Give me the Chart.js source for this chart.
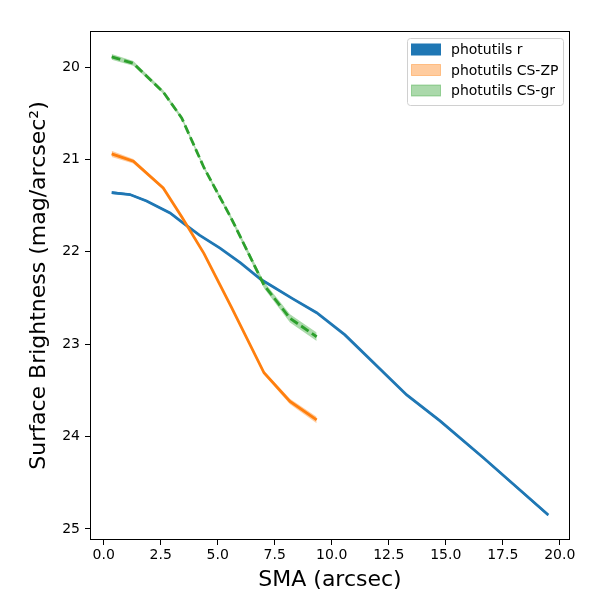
<!DOCTYPE html>
<html>
<head>
<meta charset="utf-8">
<script src="https://cdn.jsdelivr.net/npm/chart.js@4/dist/chart.umd.min.js"></script>
<style>
  html, body { margin: 0; padding: 0; background: #fff; }
  #wrap { width: 600px; height: 600px; }
</style>
</head>
<body>
<div id="wrap"><canvas id="sb"></canvas></div>
<script>
// photutils r profile
const smaR = [0.35, 1.15, 1.88, 2.91, 3.49, 4.2, 5.1, 6.0, 6.9, 7.3, 8.3, 9.34, 10.58, 13.29, 14.75, 16.65, 19.50];
const sbR = [21.36, 21.38, 21.45, 21.58, 21.69, 21.82, 21.96, 22.12, 22.30, 22.36, 22.51, 22.66, 22.90, 23.55, 23.83, 24.23, 24.85];
const errR = [0.015, 0.012, 0.01, 0.01, 0.01, 0.01, 0.01, 0.01, 0.01, 0.01, 0.01, 0.01, 0.01, 0.01, 0.012, 0.012, 0.015];

// CS profiles share the same SMA grid
const smaCS = [0.35, 1.30, 2.61, 3.42, 4.4, 5.6, 7.03, 8.17, 9.34];
const sbZP = [20.94, 21.02, 21.31, 21.62, 22.02, 22.60, 23.31, 23.62, 23.82];
const errZP = [0.035, 0.025, 0.015, 0.012, 0.012, 0.015, 0.02, 0.03, 0.035];
const sbGR = [19.89, 19.96, 20.27, 20.55, 21.09, 21.64, 22.36, 22.72, 22.92];
const errGR = [0.03, 0.025, 0.02, 0.02, 0.02, 0.025, 0.035, 0.045, 0.045];

const xTicks = [0, 2.5, 5, 7.5, 10, 12.5, 15, 17.5, 20];
const yTicks = [20, 21, 22, 23, 24, 25];

const labels = ['photutils r', 'photutils CS-ZP', 'photutils CS-gr'];
const lineColors = ['#1f77b4', '#ff7f0e', '#2ca02c'];
const bandColors = ['#1f77b4', 'rgba(255,127,14,0.4)', 'rgba(44,160,44,0.4)'];

const pts = (xs, ys, off) => xs.map((x, i) => ({ x, y: ys[i] + (off ? off[i] : 0) }));
const neg = a => a.map(v => -v);

function bandSets(xs, ys, err, color, baseOrder) {
  return [
    { data: pts(xs, ys, neg(err)), borderWidth: 0, pointRadius: 0, fill: false, order: baseOrder },
    { data: pts(xs, ys, err), borderWidth: 0, pointRadius: 0, fill: '-1', backgroundColor: color, order: baseOrder },
  ];
}

function lineSet(xs, ys, color, dash, order) {
  return {
    data: pts(xs, ys), borderColor: color, borderWidth: 2.8, borderDash: dash,
    pointRadius: 0, fill: false, tension: 0, order,
  };
}

const datasets = [
  ...bandSets(smaR, sbR, errR, bandColors[0], 9),
  lineSet(smaR, sbR, lineColors[0], [], 8),
  ...bandSets(smaCS, sbZP, errZP, bandColors[1], 7),
  lineSet(smaCS, sbZP, lineColors[1], [], 6),
  ...bandSets(smaCS, sbGR, errGR, bandColors[2], 5),
  lineSet(smaCS, sbGR, lineColors[2], [9, 4], 4),
];

// frame round the plot area plus matplotlib-style legend box
const framePlugin = {
  id: 'frame',
  afterDraw(chart) {
    const { ctx, chartArea: a } = chart;
    ctx.save();
    ctx.strokeStyle = '#000';
    ctx.lineWidth = 1;
    ctx.strokeRect(a.left + 0.5, a.top + 0.5, a.right - a.left - 1, a.bottom - a.top - 1);

    const bx = a.right - 163, by = a.top + 7, bw = 156, bh = 67;
    ctx.beginPath();
    ctx.roundRect(bx + 0.5, by + 0.5, bw, bh, 3);
    ctx.fillStyle = 'rgba(255,255,255,0.8)';
    ctx.fill();
    ctx.strokeStyle = '#d0d0d0';
    ctx.stroke();

    ctx.font = '14px "DejaVu Sans"';
    ctx.textBaseline = 'middle';
    ctx.textAlign = 'left';
    labels.forEach((t, i) => {
      const cy = by + 11.5 + i * 20.5;
      ctx.fillStyle = bandColors[i];
      ctx.fillRect(bx + 4.5, cy - 5.5, 29, 11);
      ctx.strokeStyle = bandColors[i];
      ctx.lineWidth = 1;
      ctx.strokeRect(bx + 4.5, cy - 5.5, 29, 11);
      ctx.fillStyle = '#000';
      ctx.fillText(t, bx + 44, cy + 1);
    });
    ctx.restore();
  }
};

new Chart(document.getElementById('sb'), {
  type: 'line',
  data: { datasets },
  plugins: [framePlugin],
  options: {
    responsive: true,
    maintainAspectRatio: false,
    animation: false,
    layout: { padding: { top: 31, right: 30, left: 0, bottom: 0 } },
    plugins: { legend: { display: false }, tooltip: { enabled: false } },
    scales: {
      x: {
        type: 'linear',
        min: -0.6,
        max: 20.45,
        afterFit(s) { s.height = 60; },
        afterBuildTicks(s) { s.ticks = xTicks.map(v => ({ value: v })); },
        ticks: {
          color: '#000',
          font: { family: 'DejaVu Sans', size: 14 },
          padding: 2,
          maxRotation: 0,
          callback: v => v.toFixed(1),
        },
        grid: { drawOnChartArea: false, drawTicks: true, tickLength: 5, color: '#000' },
        border: { display: false },
        title: {
          display: true,
          text: 'SMA (arcsec)',
          color: '#000',
          font: { family: 'DejaVu Sans', size: 22 },
          padding: { top: 0, bottom: 7 },
        },
      },
      y: {
        type: 'linear',
        reverse: true,
        min: 19.61,
        max: 25.12,
        afterFit(s) { s.width = 90; },
        afterBuildTicks(s) { s.ticks = yTicks.map(v => ({ value: v })); },
        ticks: {
          color: '#000',
          font: { family: 'DejaVu Sans', size: 14 },
          padding: 5,
          callback: v => String(v),
        },
        grid: { drawOnChartArea: false, drawTicks: true, tickLength: 5, color: '#000' },
        border: { display: false },
        title: {
          display: true,
          text: 'Surface Brightness (mag/arcsec²)',
          color: '#000',
          font: { family: 'DejaVu Sans', size: 22 },
          padding: { top: 26, bottom: 0 },
        },
      },
    },
  },
});
</script>
</body>
</html>
